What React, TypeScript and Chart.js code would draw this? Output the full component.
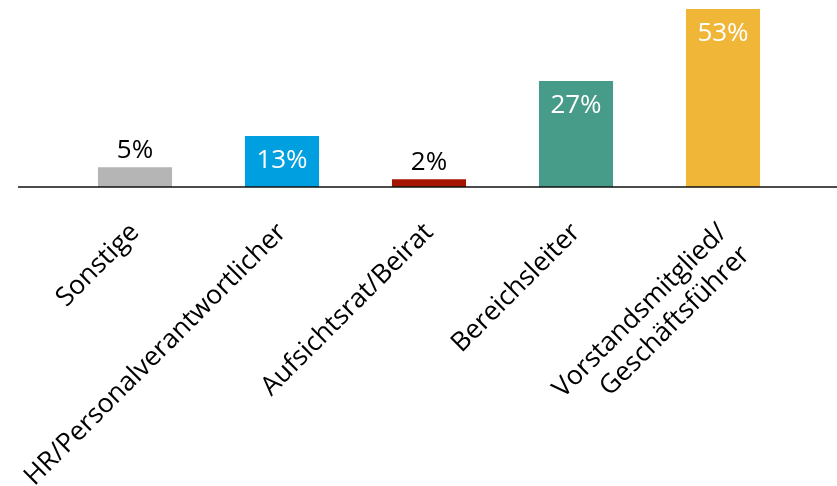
import React, { useEffect, useRef } from "react";
import { Chart, registerables } from "chart.js";

Chart.register(...registerables);

const categories: (string | string[])[] = [
  "Sonstige",
  "HR/Personalverantwortlicher",
  "Aufsichtsrat/Beirat",
  "Bereichsleiter",
  ["Vorstandsmitglied/", "Geschäftsführer"],
];
const values = [5, 13, 2, 27, 53];
const barColors = ["#B5B5B5", "#009FE0", "#A51400", "#479B89", "#EFB637"];
const insideLabel = [false, true, false, true, true];
const yMax = 45.3;

const FONT = "'Open Sans', 'Noto Sans', sans-serif";

const valueLabelPlugin = {
  id: "valueLabels",
  afterDatasetsDraw(chart: any) {
    const ctx = chart.ctx;
    const meta = chart.getDatasetMeta(0);
    const yScale = chart.scales.y;
    const base = yScale.getPixelForValue(0);
    ctx.save();
    // baseline
    ctx.beginPath();
    ctx.strokeStyle = "#111";
    ctx.lineWidth = 1.5;
    ctx.moveTo(18, base);
    ctx.lineTo(chart.width, base);
    ctx.stroke();
    ctx.font = `26px ${FONT}`;
    ctx.textAlign = "center";
    ctx.textBaseline = "middle";
    meta.data.forEach((bar: any, i: number) => {
      const top = Math.max(bar.y, chart.chartArea.top);
      const inside = insideLabel[i];
      ctx.fillStyle = inside ? "#ffffff" : "#000000";
      ctx.fillText(`${values[i]}%`, bar.x, inside ? top + 25 : top - 17);
    });
    ctx.restore();
  },
};

export default function App() {
  const ref = useRef<HTMLCanvasElement | null>(null);
  useEffect(() => {
    document.body.style.margin = "0";
    const canvas = ref.current;
    if (!canvas) return;
    const chart = new Chart(canvas, {
      type: "bar",
      data: {
        labels: categories as any,
        datasets: [
          {
            data: values,
            backgroundColor: barColors,
            borderWidth: 0,
            barPercentage: 0.504,
            categoryPercentage: 1,
          },
        ],
      },
      options: {
        animation: false,
        responsive: false,
        layout: { padding: { left: 61.5, right: 40.5, top: 9, bottom: 0 } },
        plugins: {
          legend: { display: false },
          tooltip: { enabled: false },
        },
        scales: {
          y: {
            display: false,
            min: 0,
            max: yMax,
          },
          x: {
            grid: { display: false, drawTicks: false },
            border: { display: false },
            ticks: {
              autoSkip: false,
              maxRotation: 45,
              minRotation: 45,
              padding: 30,
              color: "#000",
              font: { family: FONT, size: 26.5, lineHeight: 1.2 },
            },
            afterFit: (scale: any) => {
              scale.height = 299;
            },
          },
        },
      },
      plugins: [valueLabelPlugin],
    });
    return () => chart.destroy();
  }, []);
  return (
    <div style={{ position: "absolute", left: 0, top: 0, width: 837, height: 486 }}>
      <canvas ref={ref} width={837} height={486} style={{ display: "block" }} />
    </div>
  );
}
